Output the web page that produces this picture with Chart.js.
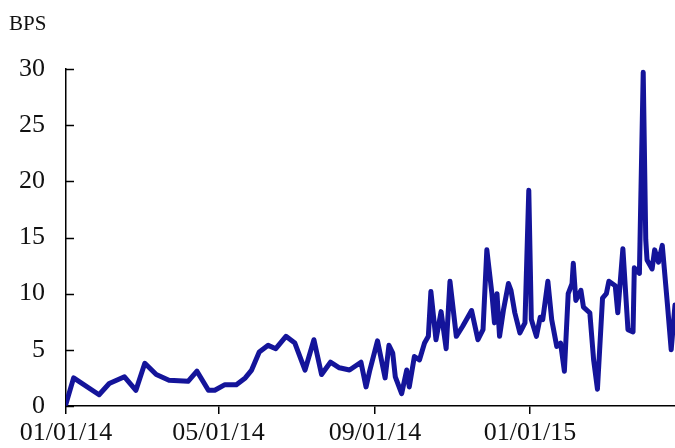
<!DOCTYPE html>
<html>
<head>
<meta charset="utf-8">
<script src="https://cdn.jsdelivr.net/npm/chart.js@4/dist/chart.umd.min.js"></script>
<style>
  body { margin: 0; background: #fff; }
  #wrap { position: relative; width: 675px; height: 448px; }
  #unit { position: absolute; left: 9px; top: 11px; font: 21px "Liberation Serif", serif; color: #111; }
</style>
</head>
<body>
<div id="wrap">
  <canvas id="grafico" width="675" height="448"></canvas>
  <div id="unit">BPS</div>
</div>
<script>
// fechas (MM/DD/YY) y valores en puntos basicos
const fechas = [
  '01/01/14','01/07/14','01/27/14','02/04/14','02/16/14','02/25/14','03/04/14','03/13/14',
  '03/23/14','04/07/14','04/14/14','04/23/14','04/28/14','05/06/14','05/15/14','05/22/14',
  '05/27/14','06/02/14','06/09/14','06/15/14','06/23/14','06/30/14','07/08/14','07/15/14',
  '07/21/14','07/28/14','08/04/14','08/12/14','08/21/14','08/25/14','08/28/14','09/03/14',
  '09/09/14','09/12/14','09/15/14','09/17/14','09/22/14','09/26/14','09/28/14','10/02/14',
  '10/06/14','10/10/14','10/13/14','10/15/14','10/19/14','10/23/14','10/27/14','10/30/14',
  '11/04/14','11/09/14','11/16/14','11/21/14','11/25/14','11/28/14','12/02/14','12/04/14',
  '12/06/14','12/08/14','12/11/14','12/15/14','12/17/14','12/20/14','12/24/14','12/28/14',
  '12/31/14','01/02/15','01/06/15','01/09/15','01/11/15','01/15/15','01/18/15','01/22/15',
  '01/25/15','01/28/15','01/31/15','02/03/15','02/04/15','02/06/15','02/10/15','02/12/15',
  '02/17/15','02/20/15','02/23/15','02/27/15','03/02/15','03/04/15','03/09/15','03/11/15',
  '03/15/15','03/19/15','03/23/15','03/24/15','03/28/15','03/31/15','04/02/15','04/03/15',
  '04/07/15','04/09/15','04/12/15','04/15/15','04/19/15','04/22/15','04/25/15'
];
const spread = [
  0.2, 2.5, 1.0, 2.0, 2.6, 1.4, 3.8, 2.8,
  2.3, 2.2, 3.1, 1.4, 1.4, 1.9, 1.9, 2.5,
  3.2, 4.8, 5.4, 5.1, 6.2, 5.6, 3.2, 5.9,
  2.8, 3.9, 3.4, 3.2, 3.9, 1.7, 3.2, 5.8,
  2.5, 5.4, 4.7, 2.6, 1.1, 3.2, 1.7, 4.4,
  4.1, 5.6, 6.2, 10.2, 5.9, 8.4, 5.1, 11.1,
  6.2, 7.1, 8.5, 5.9, 6.8, 13.9, 10.0, 7.4,
  10.0, 6.2, 8.5, 10.9, 10.3, 8.3, 6.5, 7.4,
  19.2, 7.7, 6.2, 7.9, 7.7, 11.1, 7.7, 5.3,
  5.6, 3.1, 10.0, 10.9, 12.7, 9.4, 10.3, 8.8,
  8.3, 4.1, 1.5, 9.6, 10.0, 11.1, 10.7, 8.3,
  14.0, 6.8, 6.6, 12.3, 11.8, 29.7, 14.8, 13.0,
  12.2, 13.9, 12.8, 14.3, 9.1, 5.0, 9.0
];
const etiquetasX = ['01/01/14', '05/01/14', '09/01/14', '01/01/15'];
const ticksY = [0, 5, 10, 15, 20, 25, 30];

const inicio = Date.UTC(2014, 0, 1);
function dia(f) {
  const p = f.split('/');
  return (Date.UTC(2000 + Number(p[2]), Number(p[0]) - 1, Number(p[1])) - inicio) / 86400000;
}

const puntos = fechas.map((f, i) => ({ x: dia(f), y: spread[i] }));
const fuente = { family: '"Liberation Serif", "Times New Roman", serif', size: 26 };

// marcas cortas del eje Y hacia adentro
const marcasY = {
  id: 'marcasY',
  afterDraw(chart) {
    const ctx = chart.ctx;
    const y = chart.scales.y;
    const izq = chart.chartArea.left;
    ctx.save();
    ctx.strokeStyle = '#000';
    ctx.lineWidth = 1.5;
    y.ticks.forEach(t => {
      const py = Math.round(y.getPixelForValue(t.value)) + 0.5;
      ctx.beginPath();
      ctx.moveTo(izq, py);
      ctx.lineTo(izq + 8, py);
      ctx.stroke();
    });
    ctx.restore();
  }
};

new Chart(document.querySelector('#grafico').getContext('2d'), {
  type: 'line',
  data: {
    datasets: [{
      label: 'BPS',
      data: puntos,
      borderColor: '#14149a',
      borderWidth: 5,
      pointRadius: 0,
      tension: 0,
      borderJoinStyle: 'round',
      borderCapStyle: 'round',
      fill: false
    }]
  },
  options: {
    responsive: false,
    devicePixelRatio: 1,
    animation: false,
    layout: { padding: { top: 69, right: 0, left: 0, bottom: 0 } },
    plugins: { legend: { display: false }, tooltip: { enabled: false } },
    scales: {
      x: {
        type: 'linear',
        min: 0,
        max: dia('04/25/15'),
        afterBuildTicks: s => { s.ticks = etiquetasX.map(e => ({ value: dia(e) })); },
        afterFit: s => { s.height = 42; },
        ticks: {
          autoSkip: false,
          maxRotation: 0,
          color: '#111',
          font: fuente,
          padding: 4,
          callback: v => etiquetasX[etiquetasX.map(dia).indexOf(v)]
        },
        grid: { drawOnChartArea: false, drawTicks: true, tickLength: 8, color: '#000', lineWidth: 1.5 },
        border: { display: true, color: '#000', width: 1.5 }
      },
      y: {
        min: 0,
        max: 30,
        afterBuildTicks: s => { s.ticks = ticksY.map(v => ({ value: v })); },
        afterFit: s => { s.width = 66; },
        ticks: { color: '#111', font: fuente, padding: 21 },
        grid: { drawOnChartArea: false, drawTicks: false },
        border: { display: true, color: '#000', width: 1.5 }
      }
    }
  },
  plugins: [marcasY]
});
</script>
</body>
</html>
